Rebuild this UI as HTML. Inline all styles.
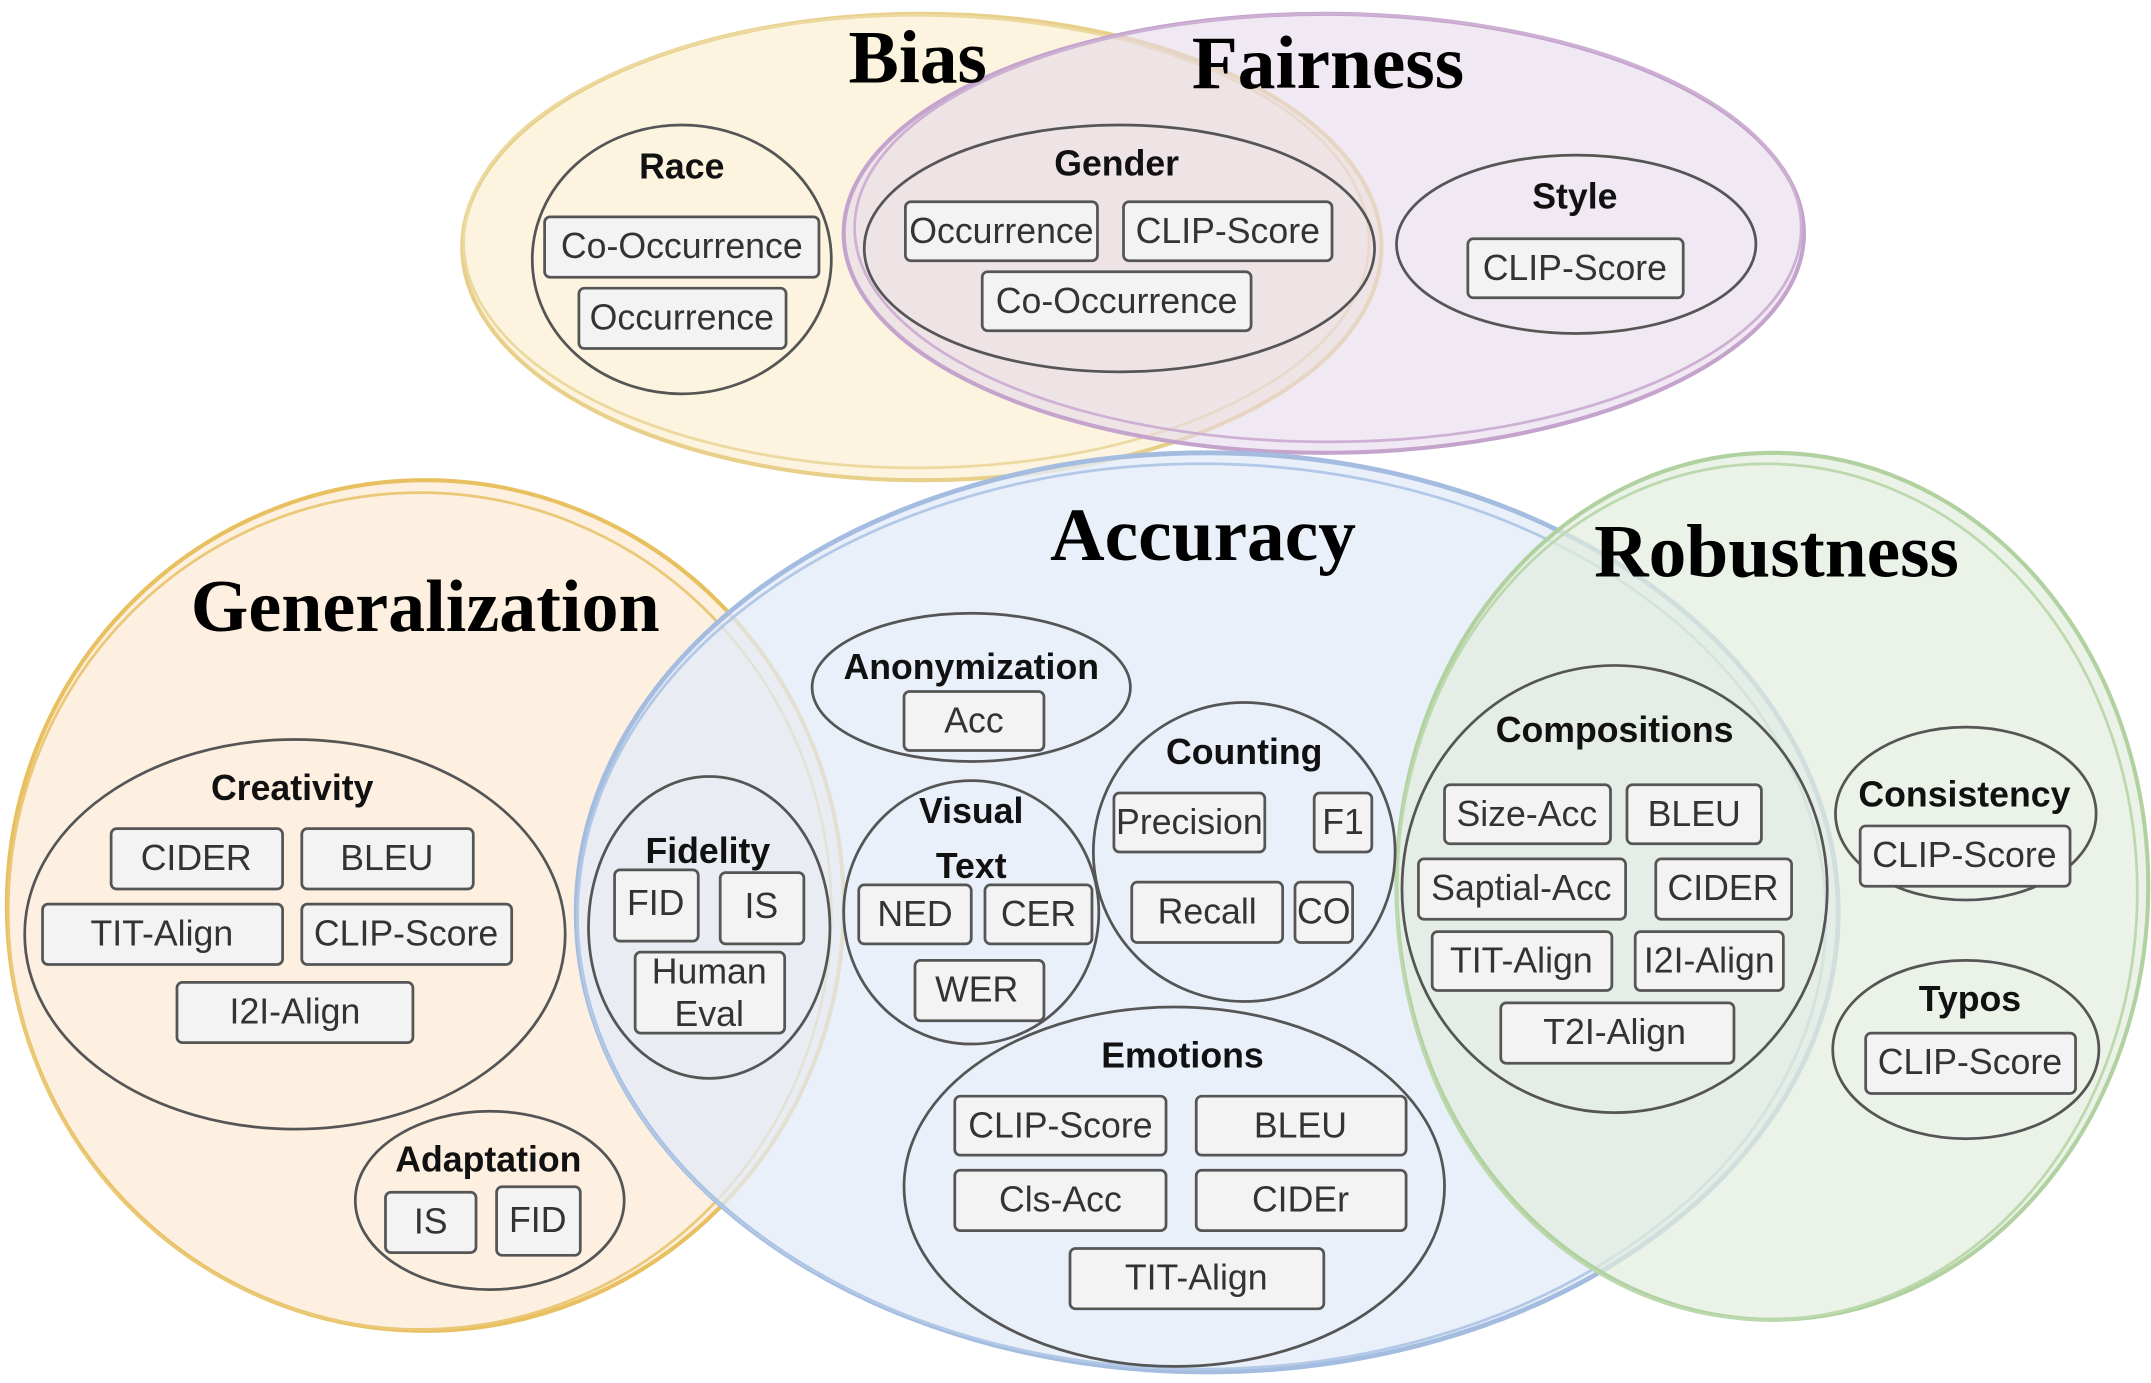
<!DOCTYPE html>
<html><head><meta charset="utf-8"><style>
html,body{margin:0;padding:0;background:#fff;}
svg{display:block;}
.b{fill:#f3f3f3;stroke:#555;stroke-width:2;}
.t{font-family:"Liberation Sans",sans-serif;font-size:26px;fill:#333;text-anchor:middle;}
.h{font-family:"Liberation Sans",sans-serif;font-size:26px;font-weight:bold;fill:#111;text-anchor:middle;}
.T{font-family:"Liberation Serif",serif;font-weight:bold;fill:#000;text-anchor:middle;}
.i{fill:none;stroke:#555;stroke-width:2;}
</style></head><body>
<svg width="2151" height="1383" viewBox="0 0 1568 1008" xmlns="http://www.w3.org/2000/svg">
<rect width="1568" height="1008" fill="#fff"/>
<ellipse cx="672" cy="180" rx="335" ry="170" fill="#fdf3dc" fill-opacity="0.9" stroke="#e8d08a" stroke-width="3"/>
<ellipse cx="668" cy="176" rx="330" ry="165" fill="none" stroke="#ecd9a0" stroke-width="2"/>
<ellipse cx="965" cy="170" rx="350" ry="160" fill="#e6d8ea" fill-opacity="0.6" stroke="#c4a3cc" stroke-width="3"/>
<ellipse cx="968" cy="166" rx="345" ry="156" fill="none" stroke="#cdb0d4" stroke-width="2"/>
<ellipse cx="310" cy="660" rx="305" ry="310" fill="#fdeedd" fill-opacity="0.9" stroke="#e8c060" stroke-width="3"/>
<ellipse cx="306" cy="664" rx="300" ry="305" fill="none" stroke="#ebc878" stroke-width="2"/>
<ellipse cx="880" cy="665" rx="460" ry="335" fill="#e2ebf8" fill-opacity="0.75" stroke="#a3bcdf" stroke-width="3.5"/>
<ellipse cx="876" cy="668" rx="455" ry="330" fill="none" stroke="#b2c8e6" stroke-width="2"/>
<ellipse cx="1292" cy="646" rx="274" ry="316" fill="#e2eddd" fill-opacity="0.7" stroke="#b1d2a0" stroke-width="3"/>
<ellipse cx="1288" cy="650" rx="270" ry="312" fill="none" stroke="#bcd9ad" stroke-width="2"/>

<text class="T" x="669" y="60" font-size="55">Bias</text>
<text class="T" x="968" y="64" font-size="55">Fairness</text>
<text class="T" x="877" y="408" font-size="55">Accuracy</text>
<text class="T" x="1295" y="420" font-size="55">Robustness</text>
<text class="T" x="310" y="460" font-size="54">Generalization</text>

<g>
<ellipse class="i" cx="497" cy="189" rx="109" ry="98"/>
<ellipse class="i" cx="816" cy="181" rx="186" ry="90"/>
<ellipse class="i" cx="1149" cy="178" rx="131" ry="65"/>
<ellipse class="i" cx="215" cy="681" rx="197" ry="142"/>
<ellipse class="i" cx="357" cy="875" rx="98" ry="65"/>
<ellipse class="i" cx="517" cy="676" rx="88" ry="110"/>
<ellipse class="i" cx="708" cy="501" rx="116" ry="54"/>
<ellipse class="i" cx="708" cy="665" rx="93" ry="96"/>
<ellipse class="i" cx="907" cy="621" rx="110" ry="109"/>
<ellipse class="i" cx="856" cy="865" rx="197" ry="131"/>
<ellipse class="i" cx="1177" cy="648" rx="155" ry="163"/>
<ellipse class="i" cx="1433" cy="593" rx="95" ry="63"/>
<ellipse class="i" cx="1433" cy="765" rx="97" ry="65"/>
</g>

<g>
<text class="h" x="497" y="130">Race</text>
<text class="h" x="814" y="128">Gender</text>
<text class="h" x="1148" y="152">Style</text>
<text class="h" x="213" y="583">Creativity</text>
<text class="h" x="356" y="854">Adaptation</text>
<text class="h" x="516" y="629">Fidelity</text>
<text class="h" x="708" y="495">Anonymization</text>
<text class="h" x="708" y="600">Visual</text>
<text class="h" x="708" y="640">Text</text>
<text class="h" x="907" y="557">Counting</text>
<text class="h" x="862" y="778">Emotions</text>
<text class="h" x="1177" y="541">Compositions</text>
<text class="h" x="1432" y="588">Consistency</text>
<text class="h" x="1436" y="737">Typos</text>
</g>

<g>
<rect class="b" x="397" y="158" width="200" height="44" rx="4"/><text class="t" x="497" y="188">Co-Occurrence</text>
<rect class="b" x="422" y="210" width="151" height="44" rx="4"/><text class="t" x="497" y="240">Occurrence</text>
<rect class="b" x="660" y="147" width="140" height="43" rx="4"/><text class="t" x="730" y="177">Occurrence</text>
<rect class="b" x="819" y="147" width="152" height="43" rx="4"/><text class="t" x="895" y="177">CLIP-Score</text>
<rect class="b" x="716" y="198" width="196" height="43" rx="4"/><text class="t" x="814" y="228">Co-Occurrence</text>
<rect class="b" x="1070" y="174" width="157" height="43" rx="4"/><text class="t" x="1148" y="204">CLIP-Score</text>

<rect class="b" x="81" y="604" width="125" height="44" rx="4"/><text class="t" x="143" y="634">CIDER</text>
<rect class="b" x="220" y="604" width="125" height="44" rx="4"/><text class="t" x="282" y="634">BLEU</text>
<rect class="b" x="31" y="659" width="175" height="44" rx="4"/><text class="t" x="118" y="689">TIT-Align</text>
<rect class="b" x="220" y="659" width="153" height="44" rx="4"/><text class="t" x="296" y="689">CLIP-Score</text>
<rect class="b" x="129" y="716" width="172" height="44" rx="4"/><text class="t" x="215" y="746">I2I-Align</text>
<rect class="b" x="281" y="869" width="66" height="44" rx="4"/><text class="t" x="314" y="899">IS</text>
<rect class="b" x="362" y="865" width="61" height="50" rx="4"/><text class="t" x="392" y="898">FID</text>

<rect class="b" x="448" y="634" width="61" height="52" rx="4"/><text class="t" x="478" y="667">FID</text>
<rect class="b" x="525" y="636" width="61" height="52" rx="4"/><text class="t" x="555" y="669">IS</text>
<rect class="b" x="463" y="694" width="109" height="59" rx="4"/><text class="t" x="517" y="717">Human</text><text class="t" x="517" y="748">Eval</text>

<rect class="b" x="659" y="504" width="102" height="43" rx="4"/><text class="t" x="710" y="534">Acc</text>
<rect class="b" x="626" y="645" width="82" height="43" rx="4"/><text class="t" x="667" y="675">NED</text>
<rect class="b" x="718" y="645" width="78" height="43" rx="4"/><text class="t" x="757" y="675">CER</text>
<rect class="b" x="667" y="700" width="94" height="44" rx="4"/><text class="t" x="712" y="730">WER</text>
<rect class="b" x="812" y="578" width="110" height="43" rx="4"/><text class="t" x="867" y="608">Precision</text>
<rect class="b" x="958" y="578" width="42" height="43" rx="4"/><text class="t" x="979" y="608">F1</text>
<rect class="b" x="825" y="643" width="110" height="44" rx="4"/><text class="t" x="880" y="673">Recall</text>
<rect class="b" x="944" y="643" width="42" height="44" rx="4"/><text class="t" x="965" y="673">CO</text>

<rect class="b" x="696" y="799" width="154" height="43" rx="4"/><text class="t" x="773" y="829">CLIP-Score</text>
<rect class="b" x="872" y="799" width="153" height="43" rx="4"/><text class="t" x="948" y="829">BLEU</text>
<rect class="b" x="696" y="853" width="154" height="44" rx="4"/><text class="t" x="773" y="883">Cls-Acc</text>
<rect class="b" x="872" y="853" width="153" height="44" rx="4"/><text class="t" x="948" y="883">CIDEr</text>
<rect class="b" x="780" y="910" width="185" height="44" rx="4"/><text class="t" x="872" y="940">TIT-Align</text>

<rect class="b" x="1053" y="572" width="121" height="43" rx="4"/><text class="t" x="1113" y="602">Size-Acc</text>
<rect class="b" x="1186" y="572" width="98" height="43" rx="4"/><text class="t" x="1235" y="602">BLEU</text>
<rect class="b" x="1034" y="626" width="151" height="44" rx="4"/><text class="t" x="1109" y="656">Saptial-Acc</text>
<rect class="b" x="1207" y="626" width="99" height="44" rx="4"/><text class="t" x="1256" y="656">CIDER</text>
<rect class="b" x="1044" y="679" width="131" height="43" rx="4"/><text class="t" x="1109" y="709">TIT-Align</text>
<rect class="b" x="1192" y="679" width="108" height="43" rx="4"/><text class="t" x="1246" y="709">I2I-Align</text>
<rect class="b" x="1094" y="731" width="170" height="44" rx="4"/><text class="t" x="1177" y="761">T2I-Align</text>
<rect class="b" x="1356" y="602" width="153" height="44" rx="4"/><text class="t" x="1432" y="632">CLIP-Score</text>
<rect class="b" x="1360" y="753" width="153" height="44" rx="4"/><text class="t" x="1436" y="783">CLIP-Score</text>
</g>
</svg>
</body></html>
